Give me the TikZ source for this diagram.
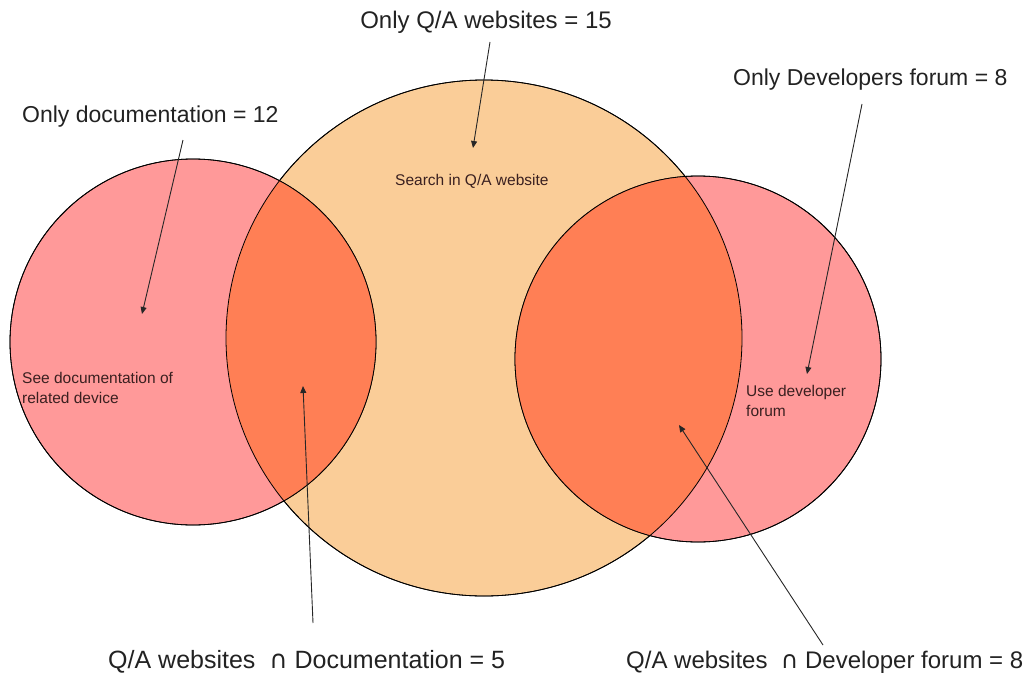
\documentclass[tikz,border=0pt]{standalone}
\usepackage{fontspec}
\setmainfont{Liberation Sans}
\newfontfamily\dejavu{DejaVu Sans}
\usetikzlibrary{arrows.meta}
\definecolor{pinkfill}{HTML}{FF9999}
\definecolor{qafill}{HTML}{FACD98}
\definecolor{overlapfill}{HTML}{FF7F55}
\definecolor{labeltext}{HTML}{222222}
\definecolor{innertext}{HTML}{3A2020}
\tikzset{
  setcircle/.style={circle, draw=black, line width=0.8pt, inner sep=0pt},
  biglabel/.style={inner sep=0pt, text=labeltext, font=\fontsize{23}{27}\selectfont},
  smalllabel/.style={inner sep=0pt, text=innertext, align=left, font=\fontsize{15.5}{19.5}\selectfont},
  pointer/.style={draw=black!85, line width=0.9pt, -{Triangle[length=7pt,width=6pt]}}
}
\begin{document}
\begin{tikzpicture}[x=1pt,y=-1pt]
\useasboundingbox (0,0) rectangle (1027,677);
% circles
\node[setcircle, fill=qafill, minimum size=516pt] (qa) at (484,338) {};
\node[setcircle, fill=pinkfill, minimum size=366pt] (doc) at (193,342) {};
\node[setcircle, fill=pinkfill, minimum size=366pt] (dev) at (698,359) {};
% overlaps
\begin{scope}
  \clip (qa.center) circle[radius=258pt];
  \fill[overlapfill] (doc.center) circle[radius=183pt];
  \fill[overlapfill] (dev.center) circle[radius=183pt];
\end{scope}
% outlines
\draw[line width=0.8pt] (qa.center) circle[radius=258pt];
\draw[line width=0.8pt] (doc.center) circle[radius=183pt];
\draw[line width=0.8pt] (dev.center) circle[radius=183pt];
% labels
\node[biglabel, font=\fontsize{24}{28}\selectfont] (lqa) at (486,22) {Only Q/A websites = 15};
\node[biglabel, anchor=west] (ldoc) at (22,117) {Only documentation = 12};
\node[biglabel, anchor=west] (ldev) at (733,80) {Only Developers forum = 8};
\node[biglabel, anchor=west, font=\fontsize{25}{29}\selectfont] (lqadoc) at (108,662) {Q/A websites \ {\dejavu ∩} Documentation = 5};
\node[biglabel, anchor=west, font=\fontsize{24}{28}\selectfont] (lqadev) at (626,662) {Q/A websites \ {\dejavu ∩} Developer forum = 8};
\node[smalllabel, anchor=west] (tqa) at (395,181) {Search in Q/A website};
\node[smalllabel, anchor=west] (tdoc) at (22,388) {See documentation of\\related device};
\node[smalllabel, anchor=west] (tdev) at (746,401) {Use developer\\forum};
% arrow ends
\coordinate (s1) at (490,42);  \coordinate (e1) at (473,148);
\coordinate (s2) at (183,140); \coordinate (e2) at (142,314);
\coordinate (s3) at (862,104); \coordinate (e3) at (807,374);
\coordinate (s4) at (313,623); \coordinate (e4) at (303,386);
\coordinate (s5) at (823,645); \coordinate (e5) at (679,425);
\draw[pointer] (s1) -- (e1);
\draw[pointer] (s2) -- (e2);
\draw[pointer] (s3) -- (e3);
\draw[pointer] (s4) -- (e4);
\draw[pointer] (s5) -- (e5);
\end{tikzpicture}
\end{document}
